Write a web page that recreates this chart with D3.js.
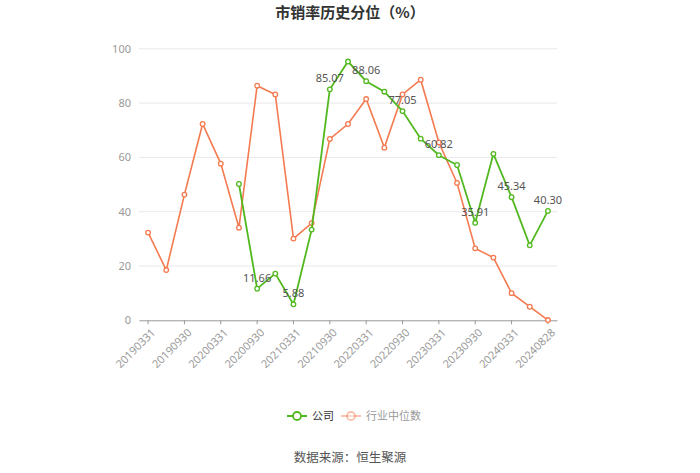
<!DOCTYPE html>
<html><head><meta charset="utf-8">
<script src="https://cdn.jsdelivr.net/npm/d3@7/dist/d3.min.js"></script>
<style>body{margin:0;background:#fff;font-family:"Noto Sans CJK SC","Noto Sans",sans-serif;}</style>
</head><body><svg id="c" width="700" height="473"></svg>
<script>
const categories = ["20190331","20190630","20190930","20191231","20200331","20200630","20200930","20201231","20210331","20210630","20210930","20211231","20220331","20220630","20220930","20221231","20230331","20230630","20230930","20231231","20240331","20240630","20240828"];
const companyValues = [null,null,null,null,null,50.2,11.66,17.2,5.88,33.4,85.07,95.3,88.06,84.2,77.05,66.9,60.82,57.2,35.91,61.3,45.34,27.6,40.30];
const industryValues = [32.3,18.5,46.3,72.3,57.7,34.1,86.4,83.2,30.1,35.8,66.8,72.3,81.5,63.6,83.2,88.6,65.5,50.6,26.5,23.1,10.0,5.0,0.1];
const yTicks = [0,20,40,60,80,100];
const seriesNames = ["公司","行业中位数"];
const title = "市销率历史分位（%）";
const source = "数据来源：恒生聚源";

(function(){
const svg = d3.select("#c");
const green = "#52b81f", orange = "#f47a4f";
const pL = 139, pR = 557, pT = 48.8, pB = 320.3;
const x = d3.scaleBand().domain(categories).range([pL, pR]);
const cx = d => x(d) + x.bandwidth()/2;
const y = d3.scaleLinear().domain([0,100]).range([pB, pT]);

svg.append("text").attr("x",350).attr("y",18).attr("text-anchor","middle")
  .attr("font-size",15).attr("font-weight","bold").attr("fill","#333").text(title);

svg.append("g").selectAll("line").data(yTicks.filter(t=>t>0)).join("line")
  .attr("x1",pL).attr("x2",pR).attr("y1",d=>y(d)).attr("y2",d=>y(d))
  .attr("stroke","#e9e9ee").attr("stroke-width",1);

const yAxis = d3.axisLeft(y).tickValues(yTicks).tickSize(0).tickPadding(8);
const gy = svg.append("g").attr("transform",`translate(${pL},0)`).call(yAxis);
gy.select(".domain").remove();
gy.selectAll("text").attr("fill","#999").attr("font-size",11).attr("font-family","Noto Sans, sans-serif");

const xAxis = d3.axisBottom(x).tickValues(categories.filter((d,i)=>i%2===0 || i===categories.length-1)).tickSize(4).tickSizeOuter(0);
const gx = svg.append("g").attr("transform",`translate(0,${pB})`).call(xAxis);
gx.select(".domain").attr("stroke","#999");
gx.selectAll(".tick line").attr("stroke","#999");
gx.selectAll("text").attr("fill","#999").attr("font-size",11).attr("font-family","Noto Sans, sans-serif")
  .attr("text-anchor","end").attr("dy","0").attr("transform","translate(3,8) rotate(-45)");

function drawSeries(vals, color, width){
  const pts = categories.map((c,i)=>({c, v: vals[i], i})).filter(d=>d.v!==null);
  const line = d3.line().x(d=>cx(d.c)).y(d=>y(d.v));
  svg.append("path").datum(pts).attr("d",line).attr("fill","none").attr("stroke",color).attr("stroke-width",width);
  svg.append("g").selectAll("circle").data(pts).join("circle")
    .attr("cx",d=>cx(d.c)).attr("cy",d=>y(d.v)).attr("r",2.3)
    .attr("fill","#fff").attr("stroke",color).attr("stroke-width",1.3);
  return pts;
}
drawSeries(industryValues, orange, 1.6);
const gp = drawSeries(companyValues, green, 1.8);

svg.append("g").selectAll("text").data(gp.filter(d=>d.i%2===0)).join("text")
  .attr("x",d=>cx(d.c)).attr("y",d=>y(d.v)-7).attr("text-anchor","middle")
  .attr("font-size",11).attr("fill","#555").attr("font-family","Noto Sans, sans-serif")
  .text(d=>d.v.toFixed(2));

const lg = svg.append("g");
function legendItem(xp, color, label, tcolor, op){
  lg.append("line").attr("x1",xp).attr("x2",xp+20).attr("y1",416).attr("y2",416).attr("stroke",color).attr("stroke-width",2).attr("opacity",op);
  lg.append("circle").attr("cx",xp+10).attr("cy",416).attr("r",4).attr("fill","#fff").attr("stroke",color).attr("stroke-width",1.8).attr("opacity",op);
  lg.append("text").attr("x",xp+25).attr("y",420).attr("font-size",11).attr("fill",tcolor).text(label);
}
legendItem(287, green, seriesNames[0], "#333", 1);
legendItem(341, orange, seriesNames[1], "#999", 0.45);

svg.append("text").attr("x",350).attr("y",462).attr("text-anchor","middle").attr("font-size",12.5).attr("fill","#555").text(source);
})();
</script></body></html>
